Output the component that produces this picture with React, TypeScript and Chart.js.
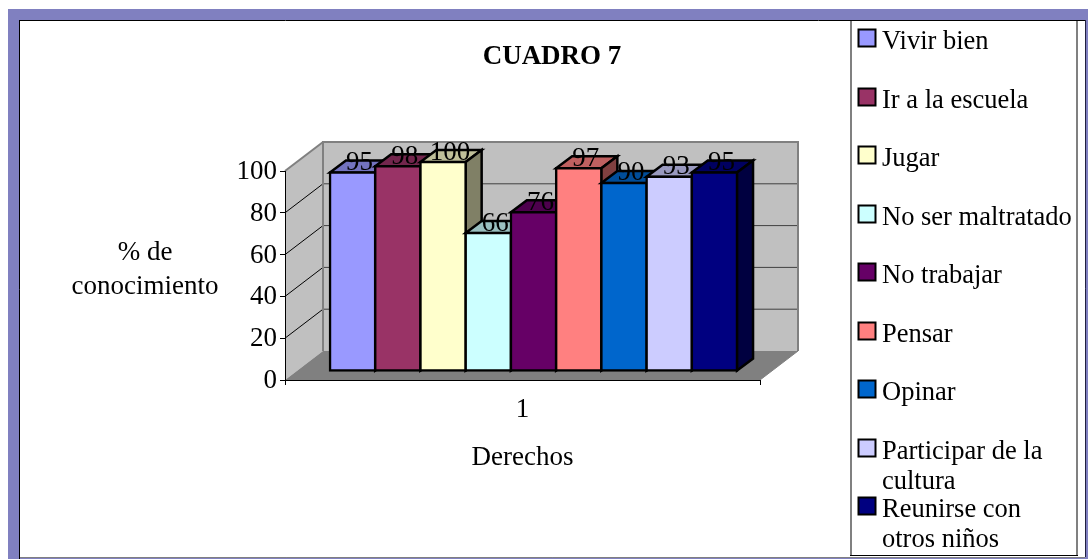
import React, { useEffect, useRef } from "react";
import { Chart, registerables } from "chart.js";

Chart.register(...registerables);

const chartTitle = "CUADRO 7";
const categories = ["1"];
const seriesNames = [
  "Vivir bien",
  "Ir a la escuela",
  "Jugar",
  "No ser maltratado",
  "No trabajar",
  "Pensar",
  "Opinar",
  "Participar de la cultura",
  "Reunirse con otros niños",
];
const legendLines = [
  ["Vivir bien"],
  ["Ir a la escuela"],
  ["Jugar"],
  ["No ser maltratado"],
  ["No trabajar"],
  ["Pensar"],
  ["Opinar"],
  ["Participar de la", "cultura"],
  ["Reunirse con", "otros niños"],
];
const seriesValues = [95, 98, 100, 66, 76, 97, 90, 93, 95];
const seriesColors = ["#9999FF", "#993366", "#FFFFCC", "#CCFFFF", "#660066", "#FF8080", "#0066CC", "#CCCCFF", "#000080"];
const yAxisTitle = ["% de", "conocimiento"];
const xAxisTitle = "Derechos";

const W = 1088;
const H = 559;
const FONT = '"Liberation Serif", "Times New Roman", serif';
const TICK_SIZE = 27;
const LEGEND_SIZE = 26.5;

function shade(hex: string, k: number) {
  const n = parseInt(hex.slice(1), 16);
  const r = Math.round(((n >> 16) & 255) * k);
  const g = Math.round(((n >> 8) & 255) * k);
  const b = Math.round((n & 255) * k);
  return `rgb(${r},${g},${b})`;
}

function poly(ctx: CanvasRenderingContext2D, pts: number[][], fill: string | null, stroke: string | null, lw = 1) {
  ctx.beginPath();
  pts.forEach((p, i) => (i ? ctx.lineTo(p[0], p[1]) : ctx.moveTo(p[0], p[1])));
  ctx.closePath();
  if (fill) {
    ctx.fillStyle = fill;
    ctx.fill();
  }
  if (stroke) {
    ctx.strokeStyle = stroke;
    ctx.lineWidth = lw;
    ctx.lineJoin = "miter";
    ctx.stroke();
  }
}

function seg(ctx: CanvasRenderingContext2D, x1: number, y1: number, x2: number, y2: number, c: string, lw = 1) {
  ctx.beginPath();
  ctx.moveTo(x1, y1);
  ctx.lineTo(x2, y2);
  ctx.strokeStyle = c;
  ctx.lineWidth = lw;
  ctx.stroke();
}

// depth of the 3D box, and where the bars sit inside it
const DEPTH_X = 38;
const DEPTH_Y = 29;
const BAR_SHIFT_X = 11;
const BAR_SHIFT_Y = 9;
const BAR_DEPTH_X = 16;
const BAR_DEPTH_Y = 12;

const framePlugin = {
  id: "frame",
  beforeDraw(chart: any) {
    const ctx: CanvasRenderingContext2D = chart.ctx;
    ctx.save();
    ctx.fillStyle = "#FFFFFF";
    ctx.fillRect(0, 0, W, H);
    ctx.fillStyle = "#8080C0";
    ctx.fillRect(8, 9, W - 8, H - 9);
    ctx.fillStyle = "#FFFFFF";
    ctx.fillRect(20, 20, 1065, 537);
    seg(ctx, 19.5, 20, 19.5, H, "#000000", 1);
    seg(ctx, 19, 20.5, 1085, 20.5, "#000000", 1);
    seg(ctx, 1085.5, 20, 1085.5, 557, "#202040", 1);
    seg(ctx, 20, 557.5, 1085, 557.5, "#808080", 1);

    // walls and floor
    const { left, right, top, bottom } = chart.chartArea;
    const y = chart.scales.y;
    const wallC = "#C0C0C0";
    const edge = "#808080";
    poly(ctx, [[left, bottom], [left + DEPTH_X, bottom - DEPTH_Y], [left + DEPTH_X, top - DEPTH_Y], [left, top]], wallC, null);
    poly(ctx, [[left + DEPTH_X, bottom - DEPTH_Y], [right + DEPTH_X, bottom - DEPTH_Y], [right + DEPTH_X, top - DEPTH_Y], [left + DEPTH_X, top - DEPTH_Y]], wallC, null);
    poly(ctx, [[left, bottom], [left + DEPTH_X, bottom - DEPTH_Y], [right + DEPTH_X, bottom - DEPTH_Y], [right, bottom]], "#808080", null);
    y.ticks.forEach((t: any) => {
      if (t.value <= 0 || t.value >= 100) return;
      const py = y.getPixelForValue(t.value);
      seg(ctx, left, py, left + DEPTH_X, py - DEPTH_Y, "#000000", 1);
      seg(ctx, left + DEPTH_X, py - DEPTH_Y, right + DEPTH_X, py - DEPTH_Y, "#404040", 1);
    });
    seg(ctx, left, top, left + DEPTH_X, top - DEPTH_Y, edge, 2);
    seg(ctx, left + DEPTH_X - 1, top - DEPTH_Y, right + DEPTH_X + 1, top - DEPTH_Y, edge, 2);
    seg(ctx, left + DEPTH_X, top - DEPTH_Y, left + DEPTH_X, bottom - DEPTH_Y, edge, 2);
    seg(ctx, right + DEPTH_X, top - DEPTH_Y, right + DEPTH_X, bottom - DEPTH_Y, edge, 2);
    seg(ctx, right, bottom, right + DEPTH_X, bottom - DEPTH_Y, edge, 1);
    ctx.restore();
  },
  beforeDatasetsDraw(chart: any) {
    const ctx: CanvasRenderingContext2D = chart.ctx;
    ctx.save();
    ctx.translate(BAR_SHIFT_X, -BAR_SHIFT_Y);
    // painted left to right so that each bar covers the side of the one before it
    for (let i = 0; i < chart.data.datasets.length; i++) {
      const meta = chart.getDatasetMeta(i);
      const color = chart.data.datasets[i].backgroundColor;
      const bar = meta.data[0];
      const { x, y, base, width } = bar.getProps(["x", "y", "base", "width"], true);
      const l = x - width / 2;
      const r = x + width / 2;
      const t = y;
      const b = base;
      poly(ctx, [[l, t], [l + BAR_DEPTH_X, t - BAR_DEPTH_Y], [r + BAR_DEPTH_X, t - BAR_DEPTH_Y], [r, t]], shade(color, 0.75), "#000000", 2.5);
      poly(ctx, [[r, t], [r + BAR_DEPTH_X, t - BAR_DEPTH_Y], [r + BAR_DEPTH_X, b - BAR_DEPTH_Y], [r, b]], shade(color, 0.5), "#000000", 2.5);
      meta.controller.draw();
    }
    // data labels
    ctx.fillStyle = "#000000";
    ctx.font = `${TICK_SIZE}px ${FONT}`;
    ctx.textAlign = "center";
    ctx.textBaseline = "alphabetic";
    for (let i = 0; i < chart.data.datasets.length; i++) {
      const bar = chart.getDatasetMeta(i).data[0];
      const { x, y } = bar.getProps(["x", "y"], true);
      ctx.fillText(String(chart.data.datasets[i].data[0]), x + 7, y - 2.5);
    }
    ctx.restore();
    return false;
  },
  afterDraw(chart: any) {
    const ctx: CanvasRenderingContext2D = chart.ctx;
    ctx.save();
    ctx.fillStyle = "#000000";
    ctx.textBaseline = "alphabetic";

    // chart title
    ctx.textAlign = "center";
    ctx.font = `bold 27px ${FONT}`;
    ctx.fillText(chartTitle, 552, 64);

    // value-axis title, horizontal and on two lines
    ctx.font = `${TICK_SIZE}px ${FONT}`;
    yAxisTitle.forEach((s, i) => ctx.fillText(s, 145, 260 + i * 34));

    // legend box
    ctx.strokeStyle = "#808080";
    ctx.lineWidth = 2;
    ctx.beginPath();
    ctx.moveTo(851, 21);
    ctx.lineTo(851, 555);
    ctx.moveTo(1077, 21);
    ctx.lineTo(1077, 555);
    ctx.stroke();
    seg(ctx, 850, 555.5, 1078, 555.5, "#000000", 1);

    ctx.textAlign = "left";
    ctx.font = `${LEGEND_SIZE}px ${FONT}`;
    legendLines.forEach((lines, i) => {
      const top = 29 + i * 58.5;
      const sy = Math.round(top);
      ctx.fillStyle = seriesColors[i];
      ctx.fillRect(858.5, sy + 0.5, 17, 17);
      ctx.strokeStyle = "#000000";
      ctx.lineWidth = 2;
      ctx.strokeRect(858.5, sy + 0.5, 17, 17);
      ctx.fillStyle = "#000000";
      lines.forEach((s, j) => ctx.fillText(s, 882, sy + 20 + j * 30));
    });
    ctx.restore();
  },
};

export default function App() {
  const ref = useRef<HTMLCanvasElement>(null);
  useEffect(() => {
    if (!ref.current) return;
    const chart = new Chart(ref.current, {
      type: "bar",
      data: {
        labels: categories,
        datasets: seriesNames.map((name, i) => ({
          label: name,
          data: [seriesValues[i]],
          backgroundColor: seriesColors[i],
          borderColor: "#000000",
          borderWidth: 2.5,
          borderSkipped: false,
          inflateAmount: 1.25,
        })),
      },
      options: {
        responsive: false,
        animation: false,
        events: [],
        categoryPercentage: 0.857,
        barPercentage: 1,
        layout: { padding: { left: 225, right: 328, top: 171, bottom: 85 } },
        plugins: { legend: { display: false }, title: { display: false }, tooltip: { enabled: false } },
        scales: {
          x: {
            offset: true,
            grid: { display: true, drawOnChartArea: false, drawTicks: true, tickLength: 5, color: "#000000", offset: true },
            border: { display: true, color: "#000000", width: 1 },
            ticks: { color: "#000000", font: { family: FONT, size: TICK_SIZE }, padding: 9, maxRotation: 0 },
            title: { display: true, text: xAxisTitle, color: "#000000", font: { family: FONT, size: TICK_SIZE }, padding: 0 },
            afterFit: (s: any) => {
              s.height = 94;
            },
          },
          y: {
            min: 0,
            max: 100,
            ticks: { stepSize: 20, color: "#000000", font: { family: FONT, size: TICK_SIZE }, padding: 3, labelOffset: 1 },
            grid: { display: true, drawOnChartArea: false, drawTicks: true, tickLength: 5, color: "#000000" },
            border: { display: true, color: "#000000", width: 1 },
            afterFit: (s: any) => {
              s.width = 60;
            },
          },
        },
      },
      plugins: [framePlugin],
    } as any);
    return () => chart.destroy();
  }, []);
  return <canvas ref={ref} width={W} height={H} style={{ position: "fixed", left: 0, top: 0, display: "block" }} />;
}
